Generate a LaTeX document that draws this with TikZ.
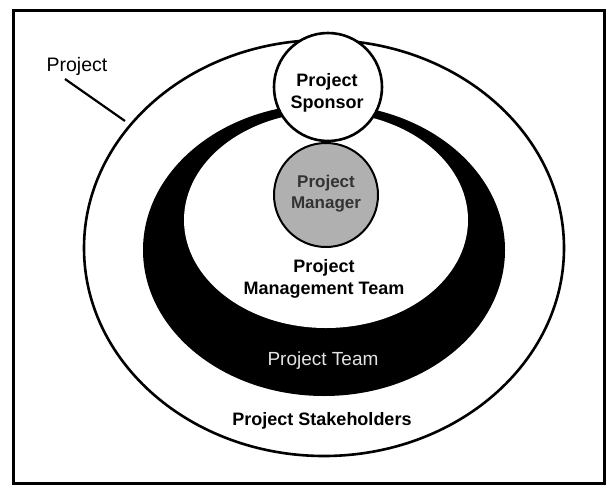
\documentclass[tikz,border=0pt]{standalone}
\usepackage{fontspec}
\setmainfont{Liberation Sans}
\begin{document}
\begin{tikzpicture}[x=1pt,y=-1pt,
  lbl/.style={font=\bfseries\fontsize{18}{22}\selectfont, align=center, inner sep=0pt},
  thin lbl/.style={font=\fontsize{19.5}{22}\selectfont, inner sep=0pt},
  ring/.style={line width=2.6pt}]
\useasboundingbox (0,0) rectangle (607,490);
% frame
\draw[line width=3pt] (13,10) rectangle (604,483);
% Project (outer ellipse)
\draw[ring, fill=white] (324,248) ellipse [x radius=240pt, y radius=208pt];
% Project Team band
\fill[black] (324,250) ellipse [x radius=181pt, y radius=146pt];
% Project Management Team area
\fill[white] (326,220) ellipse [x radius=142pt, y radius=108pt];
% Project Manager
\draw[line width=2pt, fill=gray!62] (326,195) circle [radius=52pt];
% Project Sponsor
\draw[ring, fill=white] (328,87) circle [radius=54pt];

\node[lbl] (sponsor) at (327,93) {Project\\Sponsor};
\node[lbl, text=black!80, font=\bfseries\fontsize{17}{21}\selectfont] (manager) at (326,194) {Project\\Manager};
\node[lbl] (pmt) at (324,279) {Project\\Management Team};
\node[thin lbl, text=gray!22, font=\fontsize{19}{22}\selectfont] (team) at (323,361) {Project Team};
\node[lbl] (stake) at (322,421) {Project Stakeholders};
\node[thin lbl] (project) at (77,66) {Project};
\coordinate (leadA) at (65,79);
\coordinate (leadB) at (125,121);
\draw[line width=2.2pt] (leadA) -- (leadB);
\end{tikzpicture}
\end{document}
